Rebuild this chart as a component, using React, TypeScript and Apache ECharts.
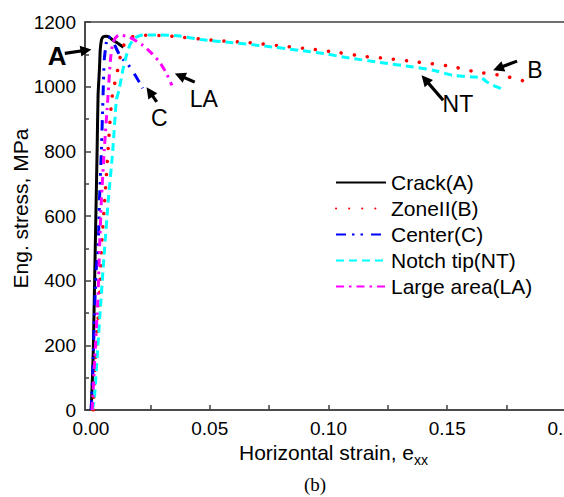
import React, { useEffect, useRef } from "react";
import * as echarts from "echarts";

// ---------- data ----------
const seriesNames = ["Crack(A)", "ZoneII(B)", "Center(C)", "Notch tip(NT)", "Large area(LA)"];

const crackData = [
  [0.0001, 0], [0.0006, 93], [0.001, 185], [0.0014, 340], [0.0018, 494], [0.0022, 649],
  [0.0026, 803], [0.003, 973], [0.0036, 1057], [0.0039, 1112], [0.0044, 1143], [0.0051, 1154],
  [0.0065, 1156], [0.0078, 1153], [0.0094, 1143], [0.0116, 1133], [0.0137, 1122],
];

const zoneData = [
  [0.001, 0], [0.0021, 185], [0.0035, 340], [0.0044, 494], [0.0058, 649], [0.0072, 803],
  [0.0079, 881], [0.009, 973], [0.0114, 1057], [0.0128, 1109], [0.0142, 1134], [0.0157, 1150],
  [0.0213, 1159], [0.0324, 1157], [0.0521, 1143], [0.0669, 1136], [0.0802, 1126], [0.0929, 1116],
  [0.1048, 1105], [0.1145, 1094], [0.125, 1087], [0.1377, 1076], [0.1514, 1063], [0.1624, 1045],
  [0.1729, 1035], [0.182, 1018],
];

const centerData = [
  [0.0001, 0], [0.0008, 124], [0.0014, 278], [0.0022, 433], [0.003, 494], [0.0036, 649],
  [0.0044, 803], [0.0051, 973], [0.0056, 1082], [0.0065, 1137], [0.0073, 1155], [0.009, 1143],
  [0.0117, 1103], [0.0138, 1082], [0.0159, 1066], [0.0189, 1032], [0.0218, 995],
];

const notchData = [
  [0.0005, 0], [0.0014, 31], [0.0028, 185], [0.0042, 340], [0.0057, 494], [0.0073, 649],
  [0.0092, 803], [0.0107, 958], [0.0118, 989], [0.0136, 1057], [0.015, 1098], [0.0164, 1129],
  [0.0185, 1150], [0.0217, 1160], [0.029, 1160], [0.0374, 1157], [0.0459, 1146], [0.0597, 1136],
  [0.0739, 1125], [0.088, 1112], [0.0985, 1102], [0.1076, 1090], [0.1217, 1075], [0.1356, 1061],
  [0.144, 1051], [0.1524, 1035], [0.1608, 1030], [0.1643, 1028], [0.1666, 1015], [0.1693, 1004],
  [0.1735, 991],
];

const largeData = [
  [0.0005, 0], [0.0018, 185], [0.0029, 340], [0.0036, 494], [0.0044, 649], [0.0056, 803],
  [0.0072, 973], [0.0082, 1082], [0.0093, 1137], [0.0117, 1160], [0.0163, 1153], [0.0218, 1128],
  [0.0256, 1103], [0.029, 1075], [0.0315, 1045], [0.0341, 1004],
];

const xTickValues = [0, 0.025, 0.05, 0.075, 0.1, 0.125, 0.15, 0.175, 0.2];
const xLabelValues = [0, 0.05, 0.1, 0.15, 0.2];

// annotation labels (data coordinates): text position, arrow tail, arrow tip
const annLabels = ["A", "C", "LA", "NT", "B"];
const annText = [[-0.0142, 1095], [0.0288, 903], [0.0475, 961], [0.1545, 946], [0.1869, 1052]];
const annTail = [[-0.011, 1103], [0.0277, 953], [0.0437, 1014], [0.1483, 958], [0.1794, 1079]];
const annTip = [[0.0002, 1115], [0.0234, 998], [0.0353, 1041], [0.1392, 1035], [0.1693, 1051]];

// ---------- component ----------
const FONT = "Liberation Sans";

export default function App() {
  const ref = useRef<HTMLDivElement>(null);

  useEffect(() => {
    const chart = echarts.init(ref.current!, null, { renderer: "svg" });
    const axisColor = "#404040";

    const styles = [
      { color: "#000000", type: "solid", width: 3 },
      { color: "#ff0000", type: [0.1, 13], width: 3.5, cap: "round" },
      { color: "#0000ff", type: [10, 6, 2.5, 6, 2.5, 8], width: 3 },
      { color: "#00ffff", type: [8, 5], width: 3 },
      { color: "#ff00ff", type: [8, 5, 2.5, 5], width: 3 },
    ];
    const datas = [crackData, zoneData, centerData, notchData, largeData];

    chart.setOption({
      animation: false,
      textStyle: { fontFamily: FONT },
      grid: {
        left: 85, top: 22, right: -2, bottom: 87,
        outerBoundsMode: "none",
        containLabel: false,
        show: true, borderColor: axisColor, borderWidth: 1.5,
      },
      legend: {
        orient: "vertical",
        left: 335,
        top: 172,
        padding: 0,
        itemWidth: 50,
        itemHeight: 14,
        itemGap: 5,
        itemStyle: { opacity: 0 },
        textStyle: { fontSize: 21, color: "#000", fontFamily: FONT },
        data: seriesNames,
      },
      xAxis: {
        type: "value",
        min: -0.0025,
        max: 0.2,
        axisLine: { show: true, onZero: false, lineStyle: { color: axisColor, width: 1.5 } },
        axisTick: { show: true, inside: true, length: 5, customValues: xTickValues, lineStyle: { color: axisColor, width: 1.5 } },
        axisLabel: {
          customValues: xLabelValues,
          formatter: (v: number) => v.toFixed(2),
          fontSize: 19, color: "#000", margin: 9, fontFamily: FONT,
        },
        splitLine: { show: false },
        name: "{a|Horizontal strain, e}{b|xx}",
        nameLocation: "middle",
        nameGap: 27,
        nameMoveOverlap: false,
        nameTextStyle: {
          padding: [0, 0, 0, 16],
          rich: {
            a: { fontSize: 21, lineHeight: 30, verticalAlign: "middle", color: "#000", fontFamily: FONT },
            b: { fontSize: 14, lineHeight: 10, verticalAlign: "bottom", color: "#000", fontFamily: FONT },
          },
        },
      },
      yAxis: {
        type: "value",
        min: 0,
        max: 1200,
        interval: 200,
        axisLine: { show: true, onZero: false, lineStyle: { color: axisColor, width: 1.5 } },
        axisTick: { show: true, inside: true, length: 6, lineStyle: { color: axisColor, width: 1.5 } },
        minorTick: { show: true, splitNumber: 2, length: 4, lineStyle: { color: axisColor, width: 1.5 } },
        axisLabel: { fontSize: 19, color: "#000", margin: 9, fontFamily: FONT, formatter: (v: number) => String(v) },
        splitLine: { show: false },
        name: "Eng. stress, MPa",
        nameLocation: "middle",
        nameGap: 54,
        nameMoveOverlap: false,
        nameTextStyle: { fontSize: 21, color: "#000", fontFamily: FONT, padding: [0, 0, 0, 15] },
      },
      series: seriesNames.map((name, i) => ({
        name,
        type: "line",
        data: datas[i],
        symbol: "none",
        showSymbol: false,
        smooth: 0.2,
        lineStyle: styles[i],
        itemStyle: { color: styles[i].color },
        z: 2 + i,
      })),
    });

    // annotations positioned through the chart's own coordinate conversion
    const graphics: any[] = [];
    annLabels.forEach((label, i) => {
      const t = chart.convertToPixel({ gridIndex: 0 }, annText[i]) as number[];
      const a = chart.convertToPixel({ gridIndex: 0 }, annTail[i]) as number[];
      const b = chart.convertToPixel({ gridIndex: 0 }, annTip[i]) as number[];
      const dx = b[0] - a[0];
      const dy = b[1] - a[1];
      const len = Math.sqrt(dx * dx + dy * dy) || 1;
      const ux = dx / len;
      const uy = dy / len;
      const headL = 11;
      const headW = 5.5;
      const bx = b[0] - ux * headL;
      const by = b[1] - uy * headL;
      graphics.push({
        type: "line",
        shape: { x1: a[0], y1: a[1], x2: bx + ux * 2, y2: by + uy * 2 },
        style: { stroke: "#000", lineWidth: 3.2 },
        z: 50,
      });
      graphics.push({
        type: "polygon",
        shape: {
          points: [
            [b[0], b[1]],
            [bx - uy * headW, by + ux * headW],
            [bx + uy * headW, by - ux * headW],
          ],
        },
        style: { fill: "#000" },
        z: 50,
      });
      const isA = label === "A";
      graphics.push({
        type: "text",
        x: t[0],
        y: t[1],
        style: {
          text: label,
          fill: "#000",
          font: `${isA ? "bold " : ""}${isA ? 26 : 23}px "${FONT}"`,
          align: "center",
          verticalAlign: "middle",
        },
        z: 50,
      });
    });
    graphics.push({
      type: "text",
      left: 304,
      top: 475,
      style: { text: "(b)", fill: "#000", font: '19px "Liberation Serif"' },
      z: 50,
    });
    chart.setOption({ graphic: graphics });

    return () => chart.dispose();
  }, []);

  return (
    <div
      ref={ref}
      style={{ position: "fixed", left: 0, top: 0, width: 564, height: 497, background: "#fff" }}
    />
  );
}
